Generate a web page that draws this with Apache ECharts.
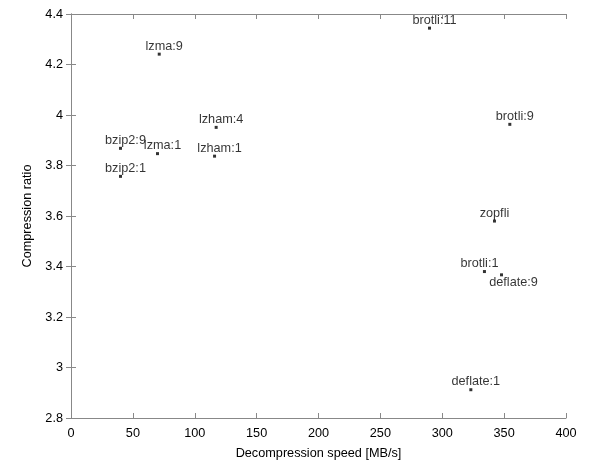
<!DOCTYPE html>
<html>
<head>
<meta charset="utf-8">
<script src="https://cdn.jsdelivr.net/npm/echarts@6/dist/echarts.min.js"></script>
<style>html,body{margin:0;padding:0;background:#fff}#c{width:603px;height:465px}</style>
</head>
<body>
<div id="c"></div>
<script>
const names = ['lzma:9','lzham:4','bzip2:9','lzma:1','lzham:1','bzip2:1','brotli:11','brotli:9','zopfli','brotli:1','deflate:9','deflate:1'];
const speeds = [71.3, 117.3, 40, 69.9, 116, 40, 289.7, 354.6, 342.2, 334.1, 347.9, 323.1];
const ratios = [4.241, 3.951, 3.868, 3.847, 3.837, 3.757, 4.344, 3.963, 3.580, 3.380, 3.367, 2.912];
const xTicks = [0, 50, 100, 150, 200, 250, 300, 350, 400];
const yTicks = [2.8, 3, 3.2, 3.4, 3.6, 3.8, 4, 4.2, 4.4];

const FONT = 'Liberation Sans';
const FS = 12.7;
const labelOffsets = {
  'zopfli': [0, 1],
  'brotli:1': [-5, 1],
  'deflate:9': [12, -1]
};
const labelPos = { 'deflate:9': 'bottom' };

const data = names.map((n, i) => ({
  name: n,
  value: [speeds[i], ratios[i]],
  label: {
    position: labelPos[n] || 'top',
    offset: labelOffsets[n] || [5, 1]
  }
}));

const axisLine = { lineStyle: { color: '#888', width: 1 } };
const tick = { inside: true, length: 5, lineStyle: { color: '#888' } };
const lbl = { color: '#000', fontFamily: FONT, fontSize: FS };

const chart = echarts.init(document.getElementById('c'), null, { renderer: 'canvas' });
chart.setOption({
  animation: false,
  backgroundColor: '#fff',
  grid: { left: 71, top: 14, width: 495, height: 405, containLabel: false },
  xAxis: [{
    type: 'value', min: xTicks[0], max: xTicks[xTicks.length - 1], interval: 50,
    name: 'Decompression speed [MB/s]', nameLocation: 'middle', nameGap: 29,
    nameTextStyle: { color: '#000', fontFamily: FONT, fontSize: FS },
    axisLine, axisTick: tick, splitLine: { show: false },
    axisLabel: Object.assign({ margin: 9 }, lbl)
  }, {
    type: 'value', position: 'top', min: 0, max: 400, interval: 50,
    axisLine, axisTick: tick, splitLine: { show: false }, axisLabel: { show: false }
  }],
  yAxis: [{
    type: 'value', min: yTicks[0], max: yTicks[yTicks.length - 1], interval: 0.2,
    name: 'Compression ratio', nameLocation: 'middle', nameGap: 33,
    nameTextStyle: { color: '#000', fontFamily: FONT, fontSize: FS },
    axisLine, axisTick: tick, splitLine: { show: false },
    axisLabel: Object.assign({ margin: 8, formatter: v => String(+v.toFixed(1)) }, lbl)
  }, {
    type: 'value', position: 'right', min: 2.8, max: 4.4, interval: 0.2,
    axisLine, axisTick: tick, splitLine: { show: false }, axisLabel: { show: false }
  }],
  series: [{
    type: 'scatter',
    symbol: 'rect',
    symbolSize: 3,
    itemStyle: { color: '#000' },
    label: {
      show: true, formatter: p => p.name, distance: 1,
      color: '#000', fontFamily: FONT, fontSize: FS
    },
    data
  }]
});
</script>
</body>
</html>
